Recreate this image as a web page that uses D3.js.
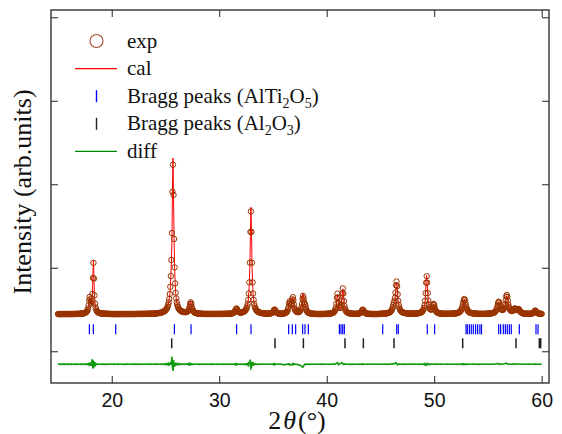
<!DOCTYPE html>
<html>
<head>
<meta charset="utf-8">
<script src="https://cdn.jsdelivr.net/npm/d3@7"></script>
<style>
  body { margin: 0; background: #fff; }
  svg { display: block; }
  .tick text { font-family: "Liberation Sans", Arial, sans-serif; font-size: 19.5px; fill: #111; }
  .tick line { stroke: #222; stroke-width: 1; }
</style>
</head>
<body>
<svg id="chart" width="562" height="434"></svg>
<script>
// ── Data ─────────────────────────────────────────────────────────────────────
// 2θ grid: 15.00° .. 60.00° in 0.05° steps (one row = 1°)
const thetaStart = 15.0;
const thetaStep = 0.05;

const yObs = [
  445,446,445,445,446,445,446,446,445,446,446,445,446,446,446,445,446,446,446,446,
  446,446,446,446,446,446,446,446,446,447,447,447,447,447,447,447,448,448,448,448,
  449,449,450,450,451,451,452,453,455,457,458,462,466,471,479,492,513,551,609,651,
  624,585,574,601,686,878,1058,871,670,572,525,500,484,475,468,464,461,458,456,455,
  454,453,452,452,451,451,450,450,449,449,449,448,448,448,447,447,447,447,446,446,
  446,446,446,446,446,445,446,446,445,446,446,446,445,446,446,445,446,446,446,446,
  446,446,445,446,446,446,446,446,446,446,446,446,446,446,446,446,446,446,447,447,
  446,446,446,446,446,446,447,447,447,447,447,447,447,447,447,447,447,448,448,448,
  448,448,448,448,448,448,449,449,449,449,449,449,450,450,450,450,450,450,451,451,
  452,452,453,454,455,456,456,457,458,459,460,461,463,465,467,470,472,476,480,484,
  490,498,508,519,535,556,586,627,686,772,900,1094,1416,1911,2234,1873,1345,1005,813,701,
  633,588,557,535,519,507,500,492,486,481,479,475,473,471,470,469,469,469,470,470,
  472,476,482,492,509,535,569,586,568,534,506,489,478,470,465,462,459,457,456,455,
  453,452,451,451,450,450,449,449,449,448,448,448,447,447,447,447,447,447,447,447,
  447,447,447,447,447,447,447,447,447,447,447,447,447,447,447,447,447,447,447,447,
  447,447,447,447,447,447,447,448,448,448,448,448,448,449,449,449,449,449,450,450,
  451,451,452,453,454,456,458,462,467,475,488,504,513,506,491,479,472,467,465,464,
  464,464,465,467,469,472,475,480,486,493,504,518,539,569,616,692,825,1061,1430,1675,
  1430,1061,825,692,616,569,539,518,504,493,486,479,474,470,467,464,462,460,459,457,
  456,456,455,455,453,453,452,452,451,451,450,450,452,452,453,454,455,456,459,463,
  470,481,494,501,494,480,469,462,458,455,453,452,451,450,450,450,450,451,451,452,
  453,454,456,459,462,466,473,484,502,530,571,598,585,561,558,578,622,648,613,559,
  522,499,486,478,473,470,469,469,470,473,478,487,501,526,567,626,664,636,589,567,
  554,527,500,483,472,466,461,458,456,454,452,451,450,450,449,449,448,448,448,447,
  447,447,447,446,446,446,446,446,446,446,446,446,446,447,447,447,447,447,447,447,
  449,449,449,450,450,451,452,453,454,455,457,459,462,467,473,482,498,524,570,641,
  690,645,579,540,522,518,528,555,609,696,754,692,601,543,510,491,479,471,465,462,
  459,457,455,454,453,452,451,450,450,449,449,448,448,448,448,449,450,450,451,451,
  453,454,457,461,468,479,492,500,492,479,468,461,457,454,452,451,450,449,448,448,
  447,447,447,446,446,446,446,446,446,446,446,446,446,446,446,446,447,447,447,447,
  448,449,449,449,450,450,451,451,452,452,453,454,455,457,458,460,463,466,471,476,
  484,495,509,529,555,580,605,640,703,790,836,780,682,606,557,525,505,491,481,474,
  470,467,464,462,459,458,457,456,455,454,453,453,452,452,452,451,451,451,451,451,
  451,451,451,452,452,452,452,453,453,454,455,456,457,459,461,463,467,472,478,487,
  500,520,551,606,695,821,899,822,697,609,557,528,510,502,498,501,511,529,555,568,
  551,522,498,483,474,467,463,460,457,456,454,453,452,451,451,450,450,449,449,449,
  449,449,449,449,449,449,449,449,449,449,450,450,450,450,451,451,452,452,453,454,
  455,455,456,458,460,462,465,469,475,482,491,505,524,550,582,612,626,612,582,550,
  524,505,491,482,475,469,465,462,460,458,456,455,454,453,452,452,451,451,450,450,
  449,449,448,448,448,448,448,448,448,448,448,448,448,448,448,448,449,449,449,449,
  450,450,451,451,452,453,454,455,456,458,460,462,466,471,478,487,500,521,549,579,
  594,581,553,528,511,501,496,494,497,504,517,536,566,608,654,675,652,605,561,529,
  514,500,491,485,482,482,484,489,497,508,513,509,501,495,493,498,505,507,500,488,
  477,469,464,460,457,455,453,452,451,450,450,449,449,449,449,449,449,449,449,450,
  450,451,452,455,458,463,471,482,488,482,471,463,458,455,452,451,450,449,449,448,
  448
];

// residual obs - cal on the same grid
const yDiff = [
  0,3,-2,1,-3,2,0,-1,3,-2,1,0,-3,2,1,-1,0,2,-2,1,
  -1,2,0,-2,3,-1,1,0,-2,2,-1,3,0,-2,1,-1,2,0,-3,1,
  0,2,-1,1,-2,3,0,-1,2,-3,1,0,-2,3,-1,2,-4,5,-6,8,
  -5,6,-20,40,60,-50,-35,25,18,-12,6,-4,3,-2,1,0,-2,1,0,2,
  -1,2,0,-2,1,3,-1,0,-2,2,1,-1,0,2,-3,1,0,-1,2,0,
  1,-2,0,2,-1,3,-2,1,0,-1,2,-3,1,0,2,-1,0,1,-2,1,
  0,2,-1,1,-3,2,0,-2,1,3,-1,0,2,-2,1,-1,0,2,-1,1,
  -2,1,0,3,-1,2,-2,0,1,-1,2,0,-3,1,2,-1,0,-2,1,0,
  2,-1,0,1,-2,3,0,-1,2,-2,1,0,-1,3,-2,1,0,2,-1,0,
  1,-2,2,0,-1,3,-2,1,0,-1,2,-2,1,3,-3,2,0,-2,4,-3,
  3,-4,5,-3,4,-6,8,-5,10,15,-8,30,90,-40,-80,50,-30,15,-10,6,
  -5,4,-3,6,-4,2,-2,3,-1,2,-3,1,0,2,-1,1,-2,2,0,-1,
  2,-3,4,-6,8,12,-10,-8,6,4,-3,2,0,-2,1,-1,2,0,-1,1,
  0,2,-1,1,-2,2,0,-1,3,-2,1,0,-1,2,-2,1,0,1,-2,0,
  1,-1,2,0,-2,1,-1,3,0,-2,1,2,-1,0,1,-2,2,0,-1,1,
  -1,2,0,-2,1,0,2,-1,1,-3,2,0,-1,1,2,-2,0,1,-1,2,
  0,-2,1,2,-1,0,2,-2,3,-3,5,-6,4,-3,2,-2,1,0,-1,2,
  -1,1,0,-2,2,-1,1,-2,3,-2,4,-3,5,-6,8,-10,20,30,55,-50,
  -40,25,-15,10,-6,5,-3,2,-1,0,2,-1,1,-2,0,1,-1,2,0,-1,
  1,-1,0,2,-2,1,0,-1,2,-1,0,1,-2,2,0,-1,1,0,-2,1,
  3,-4,5,-6,3,-2,2,0,-1,1,0,-2,1,0,2,-1,0,-2,-4,-6,
  -5,-7,-4,-6,-3,-2,0,1,-2,2,-3,4,-8,-12,-10,-6,4,8,-5,3,
  -2,2,-1,0,-3,-2,-4,-6,-8,-10,-12,-16,-20,-24,-30,-36,-32,-18,-10,-4,
  2,-1,1,0,-2,1,0,2,-1,1,0,-2,1,0,1,-1,2,0,-1,1,
  0,-1,2,0,-2,1,-1,0,2,-1,1,0,-2,1,2,0,-1,1,0,-2,
  1,0,-1,2,0,-2,1,0,2,-1,0,1,-2,2,3,-2,4,6,10,14,
  18,8,-6,2,4,6,10,14,16,12,6,-4,-2,3,1,-1,2,0,-1,1,
  0,2,-1,1,-2,0,1,-1,2,0,-2,1,0,-1,2,-1,0,1,-2,0,
  1,-1,2,0,-2,3,4,-3,-2,2,0,-1,1,0,-2,1,0,2,-1,0,
  -1,2,0,-2,1,0,-1,2,-2,1,0,1,-1,0,2,-2,1,0,-1,1,
  0,-2,1,0,2,-1,0,1,-2,1,2,-1,0,1,-1,2,0,-2,1,2,
  3,4,2,5,8,6,4,10,14,18,8,-4,-6,2,3,-1,1,0,-2,1,
  0,2,-1,1,-2,0,1,-1,2,0,-1,1,-2,1,0,2,-1,0,1,-1,
  2,0,-1,1,-2,1,0,2,-1,0,1,-1,2,-2,0,1,-1,2,0,-2,
  -3,4,-5,6,-10,-14,-8,10,6,-4,2,-1,1,0,-2,1,2,-1,0,1,
  -2,3,0,-1,1,-2,2,0,-1,1,0,-2,1,0,2,-1,1,0,-1,0,
  1,-1,0,2,-2,1,0,-1,1,0,2,-1,0,-2,1,0,1,-1,0,2,
  -1,1,0,-2,2,0,-1,1,-2,2,0,3,-2,4,-3,5,4,-3,2,-2,
  1,-1,2,0,-2,1,0,-1,2,-1,0,1,-2,1,0,2,-1,0,1,-1,
  0,2,-1,1,-2,0,1,-1,0,2,-2,1,0,-1,1,0,2,-1,0,1,
  -1,1,0,-2,2,0,-1,1,0,-2,1,2,-1,0,2,3,4,6,8,10,
  6,-4,-2,2,0,-1,1,0,2,3,4,6,8,12,14,10,4,-2,1,0,
  -1,1,0,2,-1,0,1,-2,2,4,6,2,-1,0,1,3,4,2,-1,0,
  1,-1,0,2,-2,1,0,-1,1,0,2,-1,0,-2,1,0,1,-1,2,0,
  -1,1,0,-2,1,2,3,4,2,-3,1,0,-1,2,0,-1,1,0,-2,1,
  0
];

// Bragg reflection positions (2θ, °)
const braggAlTi2O5 = [17.92, 18.29, 20.37, 25.83, 27.38, 31.62, 32.96, 36.46, 36.80, 37.11,
  37.76, 37.98, 38.29, 41.18, 41.33, 41.49, 41.64, 45.21, 46.51, 46.66, 49.36, 50.04,
  52.96, 53.08, 53.27, 53.45, 53.64, 53.85, 54.04, 54.25, 54.40, 56.00, 56.18, 56.43,
  56.62, 56.80, 56.99, 57.17, 57.92, 59.47, 59.66];
const braggAl2O3 = [25.58, 35.19, 37.83, 41.70, 43.41, 46.26, 52.65, 57.61, 59.78, 59.91];

const xTicks = [20, 30, 40, 50, 60];
const yTicks = [0, 1000, 2000, 3000, 4000];

// vertical placement (intensity units) of the tick rows and the residual curve
const braggRow1 = 263;
const braggRow2 = 96;
const diffOffset = -155;

// ── Layout ───────────────────────────────────────────────────────────────────
const W = 562, H = 434;
const margin = { left: 51, right: 13, top: 10, bottom: 51 };
const plotR = W - margin.right, plotB = H - margin.bottom;
const SERIF = '"Liberation Serif", "Times New Roman", Times, serif';

const svg = d3.select("#chart");

const x = d3.scaleLinear().domain([14.35, 60.68]).range([margin.left, plotR]);
const y = d3.scaleLinear().domain([-380, 4087]).range([plotB, margin.top]);

const pattern = yObs.map((v, i) => ({
  tt: thetaStart + i * thetaStep,
  obs: v,
  diff: yDiff[i] || 0,
}));

// ── Curves ───────────────────────────────────────────────────────────────────
const calcLine = d3.line().x((d) => x(d.tt)).y((d) => y(d.obs - d.diff));
const diffLine = d3.line().x((d) => x(d.tt)).y((d) => y(diffOffset + d.diff));

svg.append("path")
  .datum(pattern)
  .attr("d", calcLine)
  .attr("fill", "none")
  .attr("stroke", "#ff0000")
  .attr("stroke-width", 1);

svg.append("g")
  .selectAll("circle")
  .data(pattern)
  .join("circle")
  .attr("cx", (d) => x(d.tt))
  .attr("cy", (d) => y(d.obs))
  .attr("r", 2.7)
  .attr("fill", "none")
  .attr("stroke", "#993300")
  .attr("stroke-width", 1);

svg.append("path")
  .datum(pattern)
  .attr("d", diffLine)
  .attr("fill", "none")
  .attr("stroke", "#119911")
  .attr("stroke-width", 1.6);

// Bragg ticks
const tickHalf = 5;
svg.append("g")
  .selectAll("line")
  .data(braggAlTi2O5)
  .join("line")
  .attr("x1", (d) => x(d)).attr("x2", (d) => x(d))
  .attr("y1", y(braggRow1) - tickHalf).attr("y2", y(braggRow1) + tickHalf)
  .attr("stroke", "#0000ff")
  .attr("stroke-width", 1.2);

svg.append("g")
  .selectAll("line")
  .data(braggAl2O3)
  .join("line")
  .attr("x1", (d) => x(d)).attr("x2", (d) => x(d))
  .attr("y1", y(braggRow2) - tickHalf).attr("y2", y(braggRow2) + tickHalf)
  .attr("stroke", "#222")
  .attr("stroke-width", 1.5);

// ── Axes (ticks point inward on all four sides) ──────────────────────────────
const noDomain = (g) => g.select(".domain").remove();

svg.append("g")
  .attr("transform", `translate(0,${plotB})`)
  .call(d3.axisBottom(x).tickValues(xTicks).tickSize(-7).tickPadding(10))
  .call(noDomain);
svg.append("g")
  .attr("transform", `translate(0,${margin.top})`)
  .call(d3.axisTop(x).tickValues(xTicks).tickSize(-7).tickFormat(""))
  .call(noDomain);
svg.append("g")
  .attr("transform", `translate(${margin.left},0)`)
  .call(d3.axisLeft(y).tickValues(yTicks).tickSize(-7).tickFormat(""))
  .call(noDomain);
svg.append("g")
  .attr("transform", `translate(${plotR},0)`)
  .call(d3.axisRight(y).tickValues(yTicks).tickSize(-7).tickFormat(""))
  .call(noDomain);

svg.append("rect")
  .attr("x", margin.left).attr("y", margin.top)
  .attr("width", plotR - margin.left).attr("height", plotB - margin.top)
  .attr("fill", "none")
  .attr("stroke", "#222")
  .attr("stroke-width", 1.3);

// axis titles
const xTitle = svg.append("text")
  .attr("x", 297).attr("y", 429)
  .attr("text-anchor", "middle")
  .attr("font-family", SERIF)
  .attr("font-size", 26)
  .attr("fill", "#111");
xTitle.append("tspan").attr("font-family", SERIF).text("2");
xTitle.append("tspan").attr("font-family", SERIF).attr("font-style", "italic").attr("dx", 2).text("θ");
xTitle.append("tspan").attr("font-family", SERIF).attr("dx", 2).text("(°)");

svg.append("text")
  .attr("transform", "translate(31,192) rotate(-90)")
  .attr("text-anchor", "middle")
  .attr("font-family", SERIF)
  .attr("font-size", 26)
  .attr("fill", "#111")
  .text("Intensity (arb.units)");

// ── Legend ───────────────────────────────────────────────────────────────────
const legendRows = [
  { kind: "circle", color: "#a8482a", parts: [["exp"]] },
  { kind: "line", color: "#ff0000", parts: [["cal"]] },
  { kind: "tick", color: "#0000ff", parts: [["Bragg peaks (AlTi"], ["2", 1], ["O"], ["5", 1], [")"]] },
  { kind: "tick", color: "#222", parts: [["Bragg peaks (Al"], ["2", 1], ["O"], ["3", 1], [")"]] },
  { kind: "line", color: "#008800", parts: [["diff"]] },
];

const legend = svg.append("g");
legendRows.forEach((row, i) => {
  const cy = 41 + i * 27.6;
  const g = legend.append("g");
  if (row.kind === "circle") {
    g.append("circle").attr("cx", 96.5).attr("cy", cy).attr("r", 6.5)
      .attr("fill", "none").attr("stroke", row.color).attr("stroke-width", 1.1);
  } else if (row.kind === "line") {
    g.append("line").attr("x1", 75).attr("x2", 117).attr("y1", cy).attr("y2", cy)
      .attr("stroke", row.color).attr("stroke-width", 1.2);
  } else {
    g.append("line").attr("x1", 96.5).attr("x2", 96.5).attr("y1", cy - 6).attr("y2", cy + 6)
      .attr("stroke", row.color).attr("stroke-width", 1.4);
  }
  const t = g.append("text")
    .attr("x", 127).attr("y", cy + 6.5)
    .attr("font-family", SERIF)
    .attr("font-size", 21)
    .attr("fill", "#111");
  let shifted = false;
  row.parts.forEach(([s, sub]) => {
    const ts = t.append("tspan").attr("font-family", SERIF);
    if (sub) {
      ts.attr("dy", 5).attr("font-size", 14).text(s);
      shifted = true;
    } else {
      if (shifted) { ts.attr("dy", -5); shifted = false; }
      ts.text(s);
    }
  });
});
</script>
</body>
</html>
